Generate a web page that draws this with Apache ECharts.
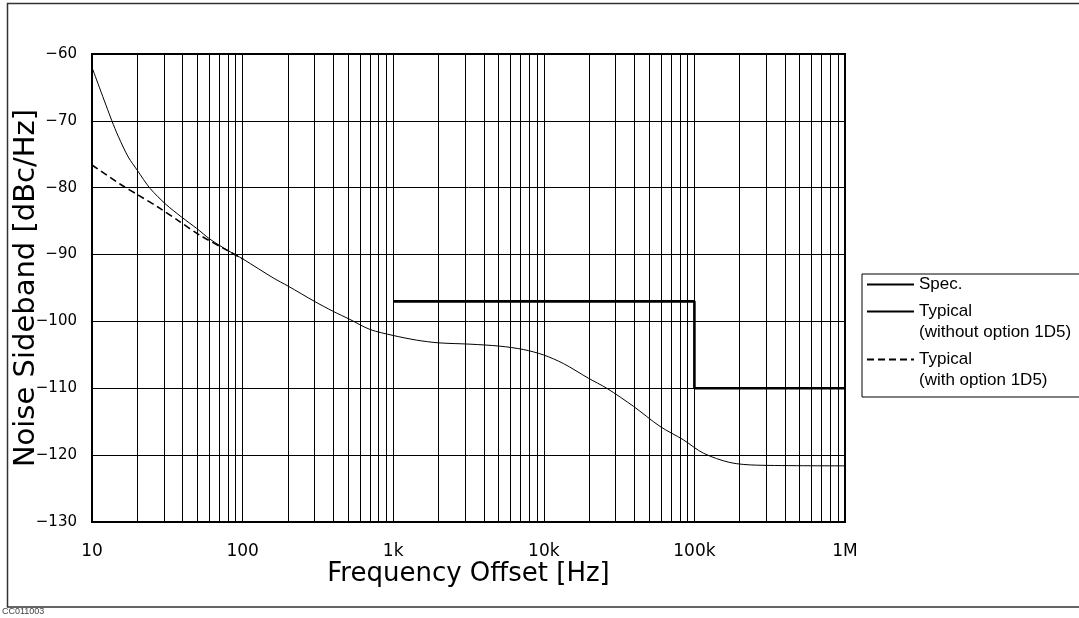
<!DOCTYPE html>
<html><head><meta charset="utf-8">
<style>html,body{margin:0;padding:0;background:#fff;}#chart{width:1079px;height:618px;}</style>
<script src="https://cdn.jsdelivr.net/npm/echarts@6/dist/echarts.min.js"></script>
</head><body><div id="chart"></div>
<script>
const xTickValues = [10, 100, 1000, 10000, 100000, 1000000];
const xTickLabels = ['10', '100', '1k', '10k', '100k', '1M'];
const yTickValues = [-60, -70, -80, -90, -100, -110, -120, -130];
const yTickLabels = ['\u221260', '\u221270', '\u221280', '\u221290', '\u2212100', '\u2212110', '\u2212120', '\u2212130'];

const specFreq = [1000, 100000, 100000, 1000000];
const specDb = [-97, -97, -110, -110];

const typicalFreq = [10, 13.5, 15, 17.4, 20, 24.3, 31, 39.4, 49.6, 60.8, 80, 101, 160, 200, 300, 400, 516, 701, 1000, 1432, 1995, 3236, 5117, 7313, 9931, 13500, 19800, 26200, 39400, 59100, 84400, 114600, 172000, 259000, 1000000];
const typicalDb = [-62, -69.9, -72.4, -75.4, -77.4, -80.1, -82.5, -84.4, -86.1, -87.7, -89.4, -90.7, -93.5, -94.7, -97, -98.5, -99.7, -101.2, -102.1, -102.8, -103.2, -103.4, -103.7, -104.2, -105.0, -106.3, -108.5, -110.0, -112.7, -115.7, -117.7, -119.7, -121.1, -121.5, -121.6];

const withOptionFreq = [10, 15.7, 20.3, 28.3, 38.4, 52, 78, 101];
const withOptionDb = [-76.6, -79.6, -81.1, -83.1, -85.1, -87.1, -89.3, -90.7];

const gridDecades = [10, 100, 1000, 10000, 100000];
const gridMultipliers = [2, 3, 4, 5, 6, 7, 8, 9];

const seriesNames = ['Spec.', 'Typical (without option 1D5)', 'Typical (with option 1D5)'];
const legendLabels = ['Spec.', '\nTypical\n(without option 1D5)', '\nTypical\n(with option 1D5)'];

const FONT = 'Liberation Sans, Arial, sans-serif';
const WIDE = 'DejaVu Sans, sans-serif';

function zip(xs, ys) { return xs.map((x, i) => [x, ys[i]]); }
const minorLines = [];
gridDecades.forEach(d => gridMultipliers.forEach(m => minorLines.push({ xAxis: d * m })));

const chart = echarts.init(document.getElementById('chart'), null, { renderer: 'canvas' });
chart.setOption({
  animation: false,
  backgroundColor: '#fff',
  grid: { left: 92, right: 234, top: 54, bottom: 96, containLabel: false, outerBoundsMode: 'none',
    show: true, borderColor: '#000', borderWidth: 2, backgroundColor: 'transparent' },
  xAxis: {
    type: 'log', logBase: 10, min: 10, max: 1000000,
    name: 'Frequency Offset [Hz]', nameLocation: 'middle', nameGap: 39, nameMoveOverlap: false,
    nameTextStyle: { fontFamily: WIDE, fontSize: 26, color: '#000' },
    axisLine: { show: false }, axisTick: { show: false },
    axisLabel: {
      margin: 21, fontFamily: WIDE, fontSize: 17, color: '#000',
      formatter: v => { const i = xTickValues.findIndex(t => Math.abs(t - v) / t < 1e-6); return i >= 0 ? xTickLabels[i] : ''; }
    },
    splitLine: { show: true, lineStyle: { color: '#000', width: 1 } }
  },
  yAxis: {
    type: 'value', min: -130, max: -60, interval: 10,
    name: 'Noise Sideband [dBc/Hz]', nameLocation: 'middle', nameGap: 51, nameRotate: 90, nameMoveOverlap: false,
    nameTextStyle: { fontFamily: WIDE, fontSize: 29, color: '#000' },
    axisLine: { show: false }, axisTick: { show: false },
    axisLabel: {
      margin: 15, fontFamily: WIDE, fontSize: 15, color: '#000',
      formatter: v => { const i = yTickValues.indexOf(Math.round(v)); return i >= 0 ? yTickLabels[i] : ''; }
    },
    splitLine: { show: true, lineStyle: { color: '#000', width: 1 } }
  },
  legend: {
    orient: 'vertical', left: 862, top: 274,
    itemWidth: 47, itemHeight: 14, itemGap: -15,
    padding: [0, 40, 6, 4], borderColor: '#000', borderWidth: 1, backgroundColor: '#fff',
    selectedMode: false,
    itemStyle: { color: 'rgba(0,0,0,0)', borderColor: 'rgba(0,0,0,0)', borderWidth: 0, opacity: 0 },
    textStyle: { fontFamily: FONT, fontSize: 17, lineHeight: 21, color: '#000' },
    formatter: name => legendLabels[seriesNames.indexOf(name)],
    data: seriesNames
  },
  graphic: [
    { type: 'rect', silent: true, z: -10, shape: { x: 7.5, y: 3.5, width: 1100, height: 603.5 }, style: { fill: 'none', stroke: '#333', lineWidth: 1.5 } },
    { type: 'text', silent: true, left: 2, top: 607, style: { text: 'CC011003', fontFamily: FONT, fontSize: 9, fill: '#444' } }
  ],
  series: [
    {
      name: seriesNames[0], type: 'line', data: zip(specFreq, specDb), symbol: 'none',
      lineStyle: { color: '#000', width: 2.6 }, itemStyle: { color: '#000' }, z: 5,
      markLine: { silent: true, symbol: ['none', 'none'], label: { show: false }, animation: false,
        lineStyle: { color: '#000', width: 1, type: 'solid' }, emphasis: { disabled: true }, data: minorLines, z: 1 }
    },
    {
      name: seriesNames[1], type: 'line', data: zip(typicalFreq, typicalDb), symbol: 'none', smooth: 0.3,
      lineStyle: { color: '#000', width: 1 }, itemStyle: { color: '#000' }, z: 4
    },
    {
      name: seriesNames[2], type: 'line', data: zip(withOptionFreq, withOptionDb), symbol: 'none', smooth: 0.3,
      lineStyle: { color: '#000', width: 1.6, type: [7, 4] }, itemStyle: { color: '#000' }, z: 4
    }
  ]
});
</script>
</body></html>
